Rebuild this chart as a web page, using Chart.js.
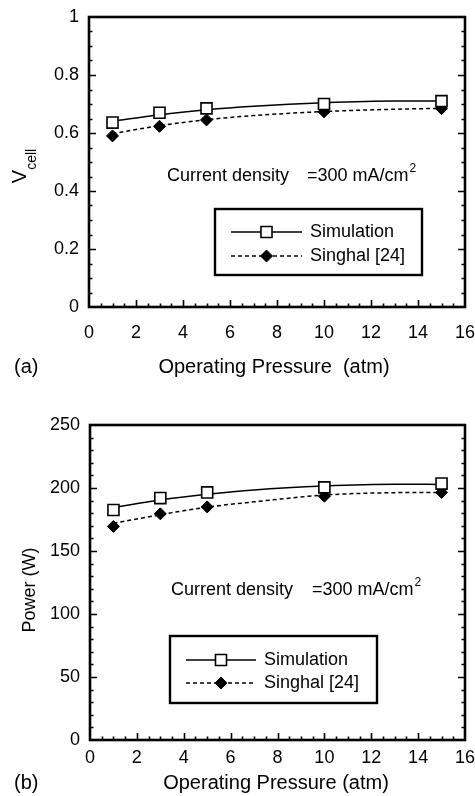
<!DOCTYPE html>
<html>
<head>
<meta charset="utf-8">
<script src="https://cdn.jsdelivr.net/npm/chart.js@4"></script>
<style>
  html, body { margin: 0; padding: 0; background: #fff; }
  canvas { display: block; }
</style>
</head>
<body>
<canvas id="chartA" width="475" height="398"></canvas>
<canvas id="chartB" width="475" height="398"></canvas>
<script>
// Operating pressure (atm) of the measured / simulated points
const pressure = [1, 3, 5, 10, 15];
// pressures at which the smoothed trend curves are sampled
const trendPressure = [1, 3, 5, 7, 10, 13, 15];

// (a) cell voltage
const vcellSimulation = [0.636, 0.670, 0.685, 0.700, 0.710];
const vcellSinghal = [0.590, 0.623, 0.645, 0.673, 0.684];
const vcellSimulationTrend = [0.640, 0.663, 0.680, 0.692, 0.704, 0.710, 0.710];
const vcellSinghalTrend = [0.598, 0.625, 0.646, 0.660, 0.674, 0.682, 0.685];

// (b) stack power (W)
const powerSimulation = [182.5, 192.0, 196.5, 200.5, 203.5];
const powerSinghal = [169.5, 179.5, 185.0, 193.5, 196.5];
const powerSimulationTrend = [184.5, 190.5, 195.0, 198.5, 201.6, 203.0, 202.8];
const powerSinghalTrend = [172.0, 178.8, 184.8, 189.0, 194.4, 196.3, 196.5];

const xTicks = [0, 2, 4, 6, 8, 10, 12, 14, 16];
const vcellTicks = [0, 0.2, 0.4, 0.6, 0.8, 1];
const powerTicks = [0, 50, 100, 150, 200, 250];

const seriesNames = ['Simulation', 'Singhal [24]'];

const FONT = "'Liberation Sans', Arial, Helvetica, sans-serif";
Chart.defaults.font.family = FONT;
Chart.defaults.font.size = 18;
Chart.defaults.color = '#000';

const pairs = (xs, ys) => xs.map((x, i) => ({ x: x, y: ys[i] }));

const simStyle = { pointStyle: 'rect', pointRadius: 7.8, backgroundColor: '#fff', borderColor: '#000', borderWidth: 1.6 };
const singStyle = { pointStyle: 'rectRot', pointRadius: 6, backgroundColor: '#000', borderColor: '#000', borderWidth: 1 };

function drawMarker(ctx, style, x, y) {
  ctx.save();
  ctx.fillStyle = style.backgroundColor;
  ctx.strokeStyle = style.borderColor;
  ctx.lineWidth = style.borderWidth;
  Chart.helpers.drawPoint(ctx, { pointStyle: style.pointStyle, radius: style.pointRadius, borderWidth: style.borderWidth }, x, y);
  ctx.restore();
}

// frame, inward ticks, legend box and labels
const framePlugin = {
  id: 'frame',
  beforeDatasetsDraw(chart, args, o) {
    const ctx = chart.ctx;
    const { left, right, top, bottom } = chart.chartArea;
    const xs = chart.scales.x, ys = chart.scales.y;
    ctx.save();
    ctx.strokeStyle = '#000';
    ctx.lineWidth = 1.6;
    ctx.beginPath();
    const nx = Math.round((xs.max - xs.min) / o.xMinor);
    for (let i = 1; i < nx; i++) {
      const v = xs.min + i * o.xMinor;
      const len = (i % Math.round(o.xMajor / o.xMinor) === 0) ? 7 : 3.5;
      const px = Math.round(xs.getPixelForValue(v)) + 0.5;
      ctx.moveTo(px, bottom); ctx.lineTo(px, bottom - len);
    }
    const ny = Math.round((ys.max - ys.min) / o.yMinor);
    for (let i = 1; i < ny; i++) {
      const v = ys.min + i * o.yMinor;
      const len = (i % Math.round(o.yMajor / o.yMinor) === 0) ? 7 : 3.5;
      const py = Math.round(ys.getPixelForValue(v)) + 0.5;
      ctx.moveTo(left, py); ctx.lineTo(left + len, py);
      ctx.moveTo(right, py); ctx.lineTo(right - len, py);
    }
    ctx.stroke();
    ctx.lineWidth = 2.6;
    ctx.strokeRect(left, top, right - left, bottom - top);
    ctx.restore();
  },
  afterDraw(chart, args, o) {
    const ctx = chart.ctx;
    ctx.save();
    ctx.fillStyle = '#000';
    ctx.textBaseline = 'middle';

    // annotation
    ctx.font = '18px ' + FONT;
    ctx.textAlign = 'left';
    ctx.fillText('Current density', o.note.x1, o.note.y);
    ctx.fillText('=300 mA/cm', o.note.x2, o.note.y);
    const w = ctx.measureText('=300 mA/cm').width;
    ctx.font = '12px ' + FONT;
    ctx.fillText('2', o.note.x2 + w + 1, o.note.y - 7);

    // legend
    const lg = o.legend;
    ctx.strokeStyle = '#000';
    ctx.lineWidth = 2.4;
    ctx.strokeRect(lg.x, lg.y, lg.w, lg.h);
    const rows = [
      { name: seriesNames[0], dash: [], style: simStyle },
      { name: seriesNames[1], dash: [4, 3], style: singStyle }
    ];
    rows.forEach((r, i) => {
      const y = lg.rowY[i];
      ctx.lineWidth = 1.5;
      ctx.setLineDash(r.dash);
      ctx.beginPath();
      ctx.moveTo(lg.lineX1, y); ctx.lineTo(lg.lineX2, y);
      ctx.stroke();
      ctx.setLineDash([]);
      drawMarker(ctx, r.style, (lg.lineX1 + lg.lineX2) / 2, y);
      ctx.font = '18px ' + FONT;
      ctx.fillStyle = '#000';
      ctx.textAlign = 'left';
      ctx.fillText(r.name, lg.textX, y);
    });

    // x axis title and panel tag
    ctx.font = '20px ' + FONT;
    ctx.textAlign = 'center';
    ctx.fillText(o.xTitle, o.xTitleX, o.xTitleY);
    ctx.textAlign = 'left';
    ctx.fillText(o.tag, 14, o.xTitleY);

    // y axis title
    ctx.translate(o.yTitleX, o.yTitleY);
    ctx.rotate(-Math.PI / 2);
    if (o.ySub) {
      ctx.textAlign = 'left';
      ctx.textBaseline = 'alphabetic';
      ctx.font = '20px ' + FONT;
      const wv = ctx.measureText(o.yTitle).width;
      ctx.font = '14px ' + FONT;
      const ws = ctx.measureText(o.ySub).width;
      const start = -(wv + ws) / 2;
      ctx.font = '20px ' + FONT;
      ctx.fillText(o.yTitle, start, 0);
      ctx.font = '14px ' + FONT;
      ctx.fillText(o.ySub, start + wv, 10);
    } else {
      ctx.font = '18px ' + FONT;
      ctx.textAlign = 'center';
      ctx.fillText(o.yTitle, 0, 0);
    }
    ctx.restore();
  }
};

function buildChart(id, cfg) {
  return new Chart(document.getElementById(id), {
    type: 'line',
    data: {
      datasets: [
        Object.assign({ label: seriesNames[0], data: pairs(pressure, cfg.sim), showLine: false, order: 0 }, simStyle),
        Object.assign({ label: seriesNames[1], data: pairs(pressure, cfg.sing), showLine: false, order: 0 }, singStyle),
        { label: 'trend1', data: pairs(trendPressure, cfg.simTrend), borderColor: '#000', borderWidth: 1.5,
          pointRadius: 0, cubicInterpolationMode: 'monotone', order: 1 },
        { label: 'trend2', data: pairs(trendPressure, cfg.singTrend), borderColor: '#000', borderWidth: 1.5,
          borderDash: [4, 3], pointRadius: 0, cubicInterpolationMode: 'monotone', order: 1 }
      ]
    },
    options: {
      responsive: false,
      animation: false,
      devicePixelRatio: 1,
      layout: { padding: { left: 0, right: 10, top: cfg.top, bottom: 0 } },
      plugins: {
        legend: { display: false },
        tooltip: { enabled: false },
        frame: cfg.frame
      },
      scales: {
        x: {
          type: 'linear', min: 0, max: 16,
          grid: { display: false, drawTicks: false },
          border: { display: false },
          afterBuildTicks: s => { s.ticks = xTicks.map(v => ({ value: v })); },
          afterFit: s => { s.height = cfg.xHeight; s.paddingLeft = 0; s.paddingRight = 0; },
          ticks: { padding: cfg.xPad, maxRotation: 0, font: { size: 18 } }
        },
        y: {
          type: 'linear', min: cfg.yTicks[0], max: cfg.yTicks[cfg.yTicks.length - 1],
          grid: { display: false, drawTicks: false },
          border: { display: false },
          afterBuildTicks: s => { s.ticks = cfg.yTicks.map(v => ({ value: v })); },
          afterFit: s => { s.width = cfg.yWidth; s.paddingTop = 0; s.paddingBottom = 0; },
          ticks: { padding: 10, font: { size: 18 }, callback: v => String(v) }
        }
      }
    },
    plugins: [framePlugin]
  });
}

buildChart('chartA', {
  sim: vcellSimulation, sing: vcellSinghal,
  simTrend: vcellSimulationTrend, singTrend: vcellSinghalTrend,
  yTicks: vcellTicks, top: 17, xHeight: 91, yWidth: 89, xPad: 15,
  frame: {
    xMinor: 0.5, xMajor: 2, yMinor: 0.05, yMajor: 0.2,
    note: { x1: 167, x2: 307, y: 176 },
    legend: { x: 215, y: 209, w: 207, h: 66, rowY: [232, 256], lineX1: 231, lineX2: 302, textX: 310 },
    xTitle: 'Operating Pressure  (atm)', xTitleX: 274, xTitleY: 367, tag: '(a)',
    yTitle: 'V', ySub: 'cell', yTitleX: 26, yTitleY: 166
  }
});

buildChart('chartB', {
  sim: powerSimulation, sing: powerSinghal,
  simTrend: powerSimulationTrend, singTrend: powerSinghalTrend,
  yTicks: powerTicks, top: 27, xHeight: 56, yWidth: 90, xPad: 7,
  frame: {
    xMinor: 0.5, xMajor: 2, yMinor: 10, yMajor: 50,
    note: { x1: 171, x2: 312, y: 192 },
    legend: { x: 170, y: 238, w: 207, h: 67, rowY: [262, 285], lineX1: 186, lineX2: 256, textX: 264 },
    xTitle: 'Operating Pressure (atm)', xTitleX: 276, xTitleY: 385, tag: '(b)',
    yTitle: 'Power (W)', ySub: null, yTitleX: 30, yTitleY: 192
  }
});
</script>
</body>
</html>
